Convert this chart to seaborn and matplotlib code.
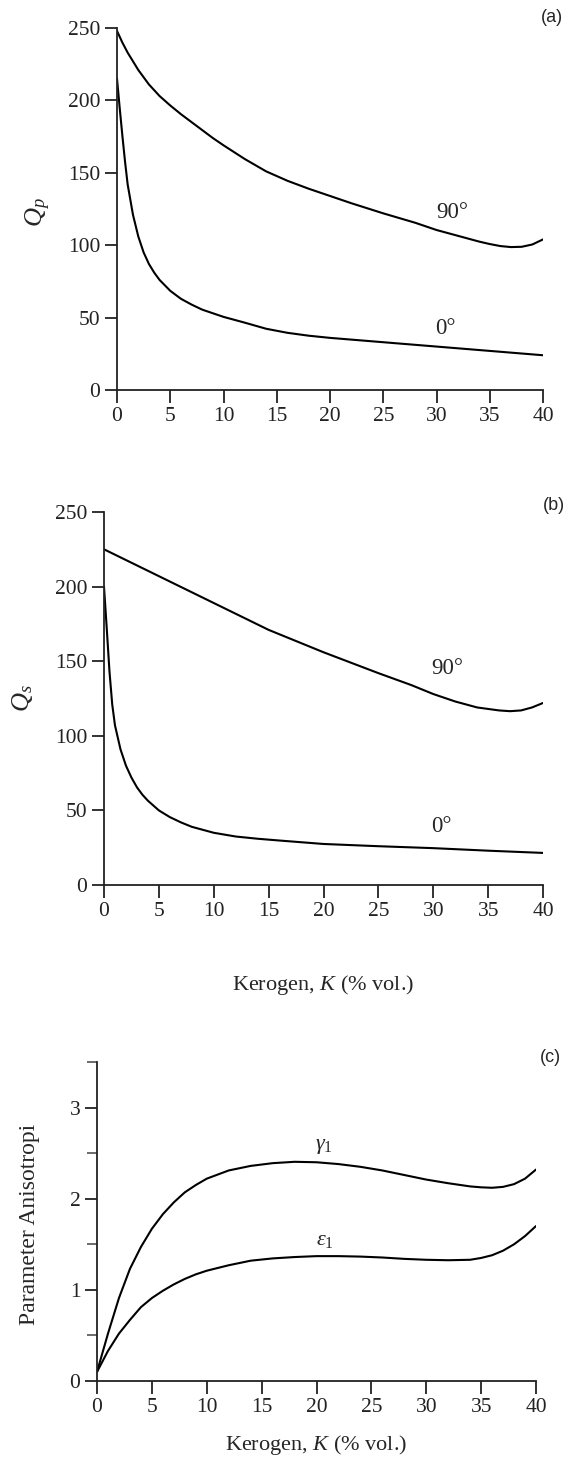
import matplotlib
matplotlib.use("Agg")
import matplotlib.pyplot as plt
import seaborn as sns
from matplotlib.ticker import MultipleLocator

# ---------------- data ----------------
# Panel (a): Qp vs kerogen
k_a90 = [0, 0.5, 1, 1.5, 2, 3, 4, 5, 6, 7, 8, 9, 10, 12, 14, 16, 18, 20, 22, 25, 28, 30, 32, 34, 35, 36, 37, 38, 39, 40]
qp_90 = [248, 240, 233, 227, 221, 211, 203, 196.5, 190.5, 185, 179.5, 174, 169, 159.5, 151, 144.5, 139, 134, 129, 122, 115.5, 110.5, 106.5, 102.5, 100.8, 99.4, 98.7, 98.9, 100.5, 104]
k_a0 = [0, 0.25, 0.5, 0.75, 1, 1.5, 2, 2.5, 3, 3.5, 4, 5, 6, 7, 8, 9, 10, 12, 14, 16, 18, 20, 25, 30, 35, 40]
qp_0 = [215, 195, 176, 158, 142, 121, 106, 95, 87, 81, 76, 68.5, 63, 59, 55.5, 53, 50.5, 46.5, 42.3, 39.5, 37.5, 36, 33, 30, 27, 24]

# Panel (b): Qs vs kerogen
k_b90 = [0, 5, 10, 15, 20, 25, 28, 30, 32, 34, 36, 37, 38, 39, 40]
qs_90 = [225, 207, 189, 171, 156, 142, 134, 128, 123, 119, 117, 116.5, 117, 119, 122]
k_b0 = [0, 0.25, 0.5, 0.75, 1, 1.5, 2, 2.5, 3, 3.5, 4, 5, 6, 7, 8, 10, 12, 14, 16, 20, 25, 30, 35, 40]
qs_0 = [200, 172, 143, 121, 107, 91, 80, 72, 65.5, 60.5, 56.5, 50, 45.5, 42, 39, 35, 32.5, 31, 29.8, 27.5, 26, 24.7, 23, 21.5]

# Panel (c): anisotropy parameters
k_c = [0, 1, 2, 3, 4, 5, 6, 7, 8, 9, 10, 12, 14, 16, 18, 20, 22, 24, 26, 28, 30, 32, 34, 35, 36, 37, 38, 39, 40]
gamma1 = [0.1, 0.52, 0.91, 1.23, 1.47, 1.67, 1.83, 1.96, 2.07, 2.15, 2.22, 2.31, 2.36, 2.39, 2.405, 2.40, 2.38, 2.35, 2.31, 2.26, 2.21, 2.17, 2.135, 2.125, 2.12, 2.13, 2.16, 2.22, 2.32]
eps1 = [0.1, 0.33, 0.52, 0.67, 0.81, 0.91, 0.99, 1.06, 1.12, 1.17, 1.21, 1.27, 1.32, 1.345, 1.36, 1.37, 1.37, 1.365, 1.355, 1.34, 1.33, 1.325, 1.33, 1.35, 1.38, 1.43, 1.50, 1.59, 1.70]

x_ticks = [0, 5, 10, 15, 20, 25, 30, 35, 40]
q_ticks = [0, 50, 100, 150, 200, 250]
c_ticks = [0, 1, 2, 3]

# ---------------- style ----------------
sns.set_style("ticks")
plt.rcParams["font.family"] = ["Liberation Serif", "DejaVu Serif"]
plt.rcParams["mathtext.fontset"] = "custom"
plt.rcParams["mathtext.rm"] = "Liberation Serif"
plt.rcParams["mathtext.it"] = "Liberation Serif:italic"
plt.rcParams["axes.linewidth"] = 1.3
plt.rcParams["axes.edgecolor"] = "#222222"

W, H = 568, 1466
fig = plt.figure(figsize=(W / 100, H / 100), dpi=100)

def axes_px(left, right, top, bottom):
    return fig.add_axes([left / W, 1 - bottom / H, (right - left) / W, (bottom - top) / H])

ax_a = axes_px(117, 543, 28, 390)
ax_b = axes_px(104, 543, 512, 885)
ax_c = axes_px(97, 536, 1062, 1381)

line_kw = dict(color="black", linewidth=1.5)

def style_axes(ax):
    sns.despine(ax=ax)
    ax.set_xlim(0, 40)
    ax.set_xticks(x_ticks)
    ax.tick_params(axis="both", which="major", length=9, width=1.3, color="#222222",
                   labelsize=15.5, labelcolor="#222222", pad=3)
    ax.tick_params(axis="both", which="minor", length=7, width=1.1, color="#444444")
    ax.set_facecolor("white")

# Panel (a)
sns.lineplot(x=k_a90, y=qp_90, ax=ax_a, **line_kw)
sns.lineplot(x=k_a0, y=qp_0, ax=ax_a, **line_kw)
style_axes(ax_a)
ax_a.set_ylim(0, 250)
ax_a.set_yticks(q_ticks)
ax_a.set_ylabel("$Q_p$", fontsize=19)
ax_a.yaxis.set_label_coords(-0.15, 0.49)
ax_a.text(31.5, 115, "90°", fontsize=16.5, ha="center", va="bottom")
ax_a.text(30.8, 35, "0°", fontsize=16.5, ha="center", va="bottom")

# Panel (b)
sns.lineplot(x=k_b90, y=qs_90, ax=ax_b, **line_kw)
sns.lineplot(x=k_b0, y=qs_0, ax=ax_b, **line_kw)
style_axes(ax_b)
ax_b.set_ylim(0, 250)
ax_b.set_yticks(q_ticks)
ax_b.set_ylabel("$Q_s$", fontsize=19)
ax_b.yaxis.set_label_coords(-0.157, 0.5)
ax_b.set_xlabel("Kerogen, $K$ (% vol.)", fontsize=16, labelpad=38)
ax_b.text(31.3, 138, "90°", fontsize=16.5, ha="center", va="bottom")
ax_b.text(30.7, 32, "0°", fontsize=16.5, ha="center", va="bottom")

# Panel (c)
sns.lineplot(x=k_c, y=gamma1, ax=ax_c, **line_kw)
sns.lineplot(x=k_c, y=eps1, ax=ax_c, **line_kw)
style_axes(ax_c)
ax_c.set_ylim(0, 3.5)
ax_c.set_yticks(c_ticks)
ax_c.yaxis.set_minor_locator(MultipleLocator(0.5))
ax_c.set_ylabel("Parameter Anisotropi", fontsize=17)
ax_c.yaxis.set_label_coords(-0.13, 0.49)
ax_c.set_xlabel("Kerogen, $K$ (% vol.)", fontsize=16, labelpad=12)
ax_c.text(20.7, 2.47, r"$\gamma_{\mathrm{1}}$", fontsize=16, ha="center", va="bottom")
ax_c.text(20.8, 1.44, r"$\varepsilon_{\mathrm{1}}$", fontsize=16, ha="center", va="bottom")

# Panel letters
sans = ["Liberation Sans", "DejaVu Sans"]
fig.text(552 / W, 1 - 18 / H, "(a)", fontsize=13, family=sans, ha="center", va="center")
fig.text(554 / W, 1 - 505 / H, "(b)", fontsize=13, family=sans, ha="center", va="center")
fig.text(550 / W, 1 - 1057 / H, "(c)", fontsize=13, family=sans, ha="center", va="center")

fig.savefig("out.png", dpi=100, facecolor="white")
